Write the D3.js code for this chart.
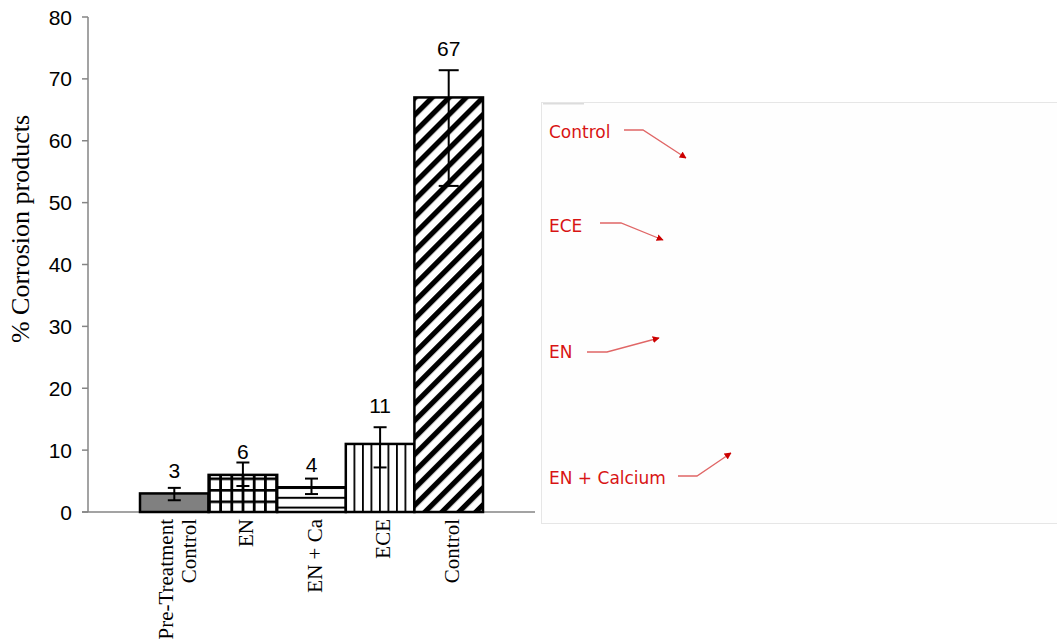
<!DOCTYPE html>
<html>
<head>
<meta charset="utf-8">
<script src="https://cdn.jsdelivr.net/npm/d3@7"></script>
<style>
  html, body { margin: 0; padding: 0; background: #fff; }
  svg { display: block; }
</style>
</head>
<body>
<svg id="chart" width="1057" height="639"></svg>
<script>
// Treatment groups and measured corrosion products (%)
const categories = ["Pre-Treatment Control", "EN", "EN + Ca", "ECE", "Control"];
const categoryLines = [["Pre-Treatment", "Control"], ["EN"], ["EN + Ca"], ["ECE"], ["Control"]];
const values = [3, 6, 4, 11, 67];
const errLow = [1.1, 1.8, 1.1, 3.8, 14.3];
const errHigh = [0.9, 2.0, 1.4, 2.7, 4.4];
const yTicks = [0, 10, 20, 30, 40, 50, 60, 70, 80];
const fills = ["solid", "grid", "hlines", "vlines", "diag"];

// Annotation labels shown in the side panel
const noteLabels = ["Control", "ECE", "EN", "EN + Calcium"];

const svg = d3.select("#chart");
const defs = svg.append("defs");

const y = d3.scaleLinear().domain([0, 80]).range([512, 17]);
const x = d3.scaleBand().domain(categories).range([140, 483]).padding(0);

// ---- fill patterns ----
const grid = defs.append("pattern").attr("id", "grid")
  .attr("patternUnits", "userSpaceOnUse").attr("width", 11.2).attr("height", 11.5)
  .attr("x", 208).attr("y", 512);
grid.append("rect").attr("width", 11.2).attr("height", 11.5).attr("fill", "#fff");
grid.append("rect").attr("x", 0).attr("y", 0).attr("width", 2.8).attr("height", 11.5).attr("fill", "#000");
grid.append("rect").attr("x", 0).attr("y", 0).attr("width", 11.2).attr("height", 2.6).attr("fill", "#000");

const hl = defs.append("pattern").attr("id", "hlines")
  .attr("patternUnits", "userSpaceOnUse").attr("width", 10).attr("height", 9.8)
  .attr("x", 0).attr("y", 487);
hl.append("rect").attr("width", 10).attr("height", 9.8).attr("fill", "#fff");
hl.append("rect").attr("y", 0).attr("width", 10).attr("height", 2).attr("fill", "#000");

const vl = defs.append("pattern").attr("id", "vlines")
  .attr("patternUnits", "userSpaceOnUse").attr("width", 8.5).attr("height", 10)
  .attr("x", 345).attr("y", 0);
vl.append("rect").attr("width", 8.5).attr("height", 10).attr("fill", "#fff");
vl.append("rect").attr("x", 0).attr("width", 1.8).attr("height", 10).attr("fill", "#000");

const dg = defs.append("pattern").attr("id", "diag")
  .attr("patternUnits", "userSpaceOnUse").attr("width", 12).attr("height", 12)
  .attr("patternTransform", "rotate(45)");
dg.append("rect").attr("width", 12).attr("height", 12).attr("fill", "#fff");
dg.append("rect").attr("x", 0).attr("width", 5.2).attr("height", 12).attr("fill", "#000");

const fillFor = k => k === "solid" ? "#808080" : `url(#${k})`;

// ---- axes ----
const axisColor = "#858585";
svg.append("line").attr("x1", 88).attr("x2", 88).attr("y1", y(80)).attr("y2", y(0))
  .attr("stroke", axisColor).attr("stroke-width", 1.5);
svg.append("line").attr("x1", 82).attr("x2", 535).attr("y1", y(0)).attr("y2", y(0))
  .attr("stroke", axisColor).attr("stroke-width", 1.5);

const yg = svg.append("g");
yg.selectAll("line.tick").data(yTicks).join("line")
  .attr("x1", 82).attr("x2", 88).attr("y1", d => y(d)).attr("y2", d => y(d))
  .attr("stroke", axisColor).attr("stroke-width", 1.5);
yg.selectAll("text").data(yTicks).join("text")
  .attr("x", 72).attr("y", d => y(d)).attr("dy", "0.36em")
  .attr("text-anchor", "end")
  .attr("font-family", "Liberation Sans, Arial, sans-serif").attr("font-size", 21)
  .attr("fill", "#000").text(d => d);

svg.append("text")
  .attr("transform", "translate(29,229) rotate(-90)")
  .attr("text-anchor", "middle")
  .attr("font-family", "Liberation Serif, Times New Roman, serif").attr("font-size", 26)
  .attr("fill", "#000").text("% Corrosion products");

// ---- bars ----
svg.selectAll("rect.bar").data(categories).join("rect")
  .attr("class", "bar")
  .attr("x", d => x(d)).attr("width", x.bandwidth())
  .attr("y", (d, i) => y(values[i])).attr("height", (d, i) => y(0) - y(values[i]))
  .attr("fill", (d, i) => fillFor(fills[i]))
  .attr("stroke", "#000").attr("stroke-width", 2.5);

// ---- error bars ----
const eg = svg.append("g").attr("stroke", "#000").attr("stroke-width", 2);
categories.forEach((c, i) => {
  const cx = x(c) + x.bandwidth() / 2;
  const lo = y(values[i] - errLow[i]), hi = y(values[i] + errHigh[i]);
  const cap = i === 4 ? 10 : 6.5;
  eg.append("line").attr("x1", cx).attr("x2", cx).attr("y1", lo).attr("y2", hi);
  eg.append("line").attr("x1", cx - cap).attr("x2", cx + cap).attr("y1", lo).attr("y2", lo);
  eg.append("line").attr("x1", cx - cap).attr("x2", cx + cap).attr("y1", hi).attr("y2", hi);
});

// ---- value labels: above the bar, lifted clear of the error cap ----
const labelY = i => {
  const above = y(values[i]) - 23;
  const cap = y(values[i] + errHigh[i]);
  return cap - above >= 8 ? above : cap - 22;
};
svg.selectAll("text.val").data(categories).join("text")
  .attr("class", "val")
  .attr("x", d => x(d) + x.bandwidth() / 2)
  .attr("y", (d, i) => labelY(i))
  .attr("dy", "0.36em").attr("text-anchor", "middle")
  .attr("font-family", "Liberation Sans, Arial, sans-serif").attr("font-size", 21)
  .attr("fill", "#000").text((d, i) => values[i]);

// ---- category labels (rotated) ----
categories.forEach((c, i) => {
  const lines = categoryLines[i];
  const cx = x(c) + x.bandwidth() / 2;
  const t = svg.append("text")
    .attr("transform", `translate(${cx + 3},519) rotate(-90)`)
    .attr("text-anchor", "end")
    .attr("font-family", "Liberation Serif, Times New Roman, serif").attr("font-size", 21)
    .attr("fill", "#000");
  const n = lines.length;
  lines.forEach((ln, j) => {
    t.append("tspan").attr("x", 0)
      .attr("y", (j - (n - 1) / 2) * 23)
      .attr("dy", "0.35em").text(ln);
  });
});

// ---- side annotation panel ----
svg.append("rect").attr("x", 541.5).attr("y", 102.5).attr("width", 520).attr("height", 421)
  .attr("fill", "#fefefe").attr("stroke", "#e6e6e6").attr("stroke-width", 1);
svg.append("rect").attr("x", 543).attr("y", 103).attr("width", 41).attr("height", 1.5)
  .attr("fill", "#dcdcdc");

const red = "#d81414";
defs.append("marker").attr("id", "arrow").attr("viewBox", "0 0 10 10")
  .attr("refX", 9).attr("refY", 5).attr("markerWidth", 7).attr("markerHeight", 7)
  .attr("markerUnits", "userSpaceOnUse").attr("orient", "auto")
  .append("path").attr("d", "M0,0 L10,5 L0,10 Z").attr("fill", "#cc0000");

const noteLayout = [
  { tx: 549, ty: 138, pts: [[624, 130], [643, 130], [686, 158]] },
  { tx: 549, ty: 232, pts: [[600, 223], [621, 223], [663, 240]] },
  { tx: 549, ty: 358, pts: [[587, 352], [607, 352], [659, 338]] },
  { tx: 549, ty: 484, pts: [[678, 476], [697, 476], [731, 453]] }
];

noteLabels.forEach((lbl, i) => {
  const L = noteLayout[i];
  svg.append("text").attr("x", L.tx).attr("y", L.ty)
    .attr("font-family", "DejaVu Sans, Verdana, sans-serif").attr("font-size", 17)
    .attr("fill", red).text(lbl);
  svg.append("path").attr("d", d3.line()(L.pts))
    .attr("fill", "none").attr("stroke", "#e06666").attr("stroke-width", 1.3)
    .attr("marker-end", "url(#arrow)");
});
</script>
</body>
</html>
